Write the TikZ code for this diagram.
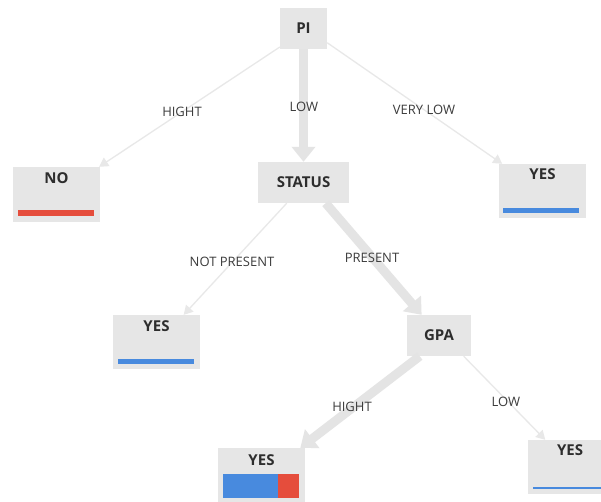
\documentclass[tikz,border=0pt]{standalone}
\usepackage{fontspec}
\setmainfont{Open Sans}
\usetikzlibrary{arrows.meta}
\definecolor{boxgray}{RGB}{230,230,230}
\definecolor{linegray}{RGB}{228,228,228}
\definecolor{thingray}{RGB}{232,232,232}
\definecolor{txtgray}{RGB}{60,60,60}
\definecolor{boxtxt}{RGB}{45,45,45}
\definecolor{barblue}{RGB}{72,138,222}
\definecolor{barred}{RGB}{229,77,60}
\tikzset{
  box/.style={fill=boxgray, inner sep=0pt, draw=none},
  inner/.style={box, minimum width=47pt, minimum height=41pt},
  wideinner/.style={box, minimum width=91pt, minimum height=41pt},
  gpainner/.style={box, minimum width=64pt, minimum height=41pt},
  leaf/.style={box, minimum width=87pt, minimum height=54pt},
  boxtext/.style={inner sep=0pt, text=boxtxt, font=\fontsize{15}{18}\selectfont\bfseries},
  lbl/.style={inner sep=0pt, text=txtgray, font=\fontsize{13}{15}\selectfont},
  thin/.style={draw=thingray, line width=1.3pt, -{Triangle[width=10pt,length=9pt]}},
  thick/.style={draw=linegray, line width=9pt, -{Triangle[width=23pt,length=15pt]}},
}
\begin{document}
\begin{tikzpicture}[x=1pt,y=-1pt]
\clip (0,0) rectangle (601,502);
\fill[white] (0,0) rectangle (601,502);
% boxes
\node[inner] (pi) at (303.5,28.5) {};
\node[boxtext] (piT) at (pi.center) {PI};
\node[wideinner] (status) at (303.5,182.5) {};
\node[boxtext] (statusT) at (status.center) {STATUS};
\node[gpainner] (gpa) at (439,335.5) {};
\node[boxtext] (gpaT) at (gpa.center) {GPA};
\node[leaf, minimum height=55pt] (no) at (56.5,194.5) {};
\node[boxtext] (noT) at (56.5,178) {NO};
\fill[barred] (18,210) rectangle (94,216);
\node[leaf] (yesA) at (542.5,191) {};
\node[boxtext] (yesAT) at (542.5,174) {YES};
\fill[barblue] (503,208) rectangle (579,213);
\node[leaf] (yesB) at (156.5,342) {};
\node[boxtext] (yesBT) at (156.5,326) {YES};
\fill[barblue] (118,358.5) rectangle (194,363.5);
\node[leaf] (yesC) at (261.5,475) {};
\node[boxtext] (yesCT) at (261.5,460) {YES};
\fill[barblue] (223,474) rectangle (278,498);
\fill[barred] (278,474) rectangle (299,498);
\node[leaf] (yesD) at (571.5,467) {};
\node[boxtext] (yesDT) at (570,450) {YES};
\fill[barblue] (533,487) rectangle (601,489);
% connectors
\draw[thin] (pi.218) -- (no.33);
\draw[thick] (pi.south) -- (status.north);
\draw[thin] (pi.-31) -- (yesA.146);
\draw[thin] (status.231) -- (yesB.45.5);
\draw[thick] (status.-43.6) -- (gpa.130);
\draw[thick] (gpa.227) -- (yesC.35);
\draw[thin] (gpa.-40.5) -- (yesD.134.5);
% labels
\node[lbl] (l1) at (182,112) {HIGHT};
\node[lbl] (l2) at (304,107) {LOW};
\node[lbl] (l3) at (424,110) {VERY LOW};
\node[lbl] (l4) at (232,262) {NOT PRESENT};
\node[lbl] (l5) at (372,258) {PRESENT};
\node[lbl] (l6) at (352,407) {HIGHT};
\node[lbl] (l7) at (506,402) {LOW};
\end{tikzpicture}
\end{document}
